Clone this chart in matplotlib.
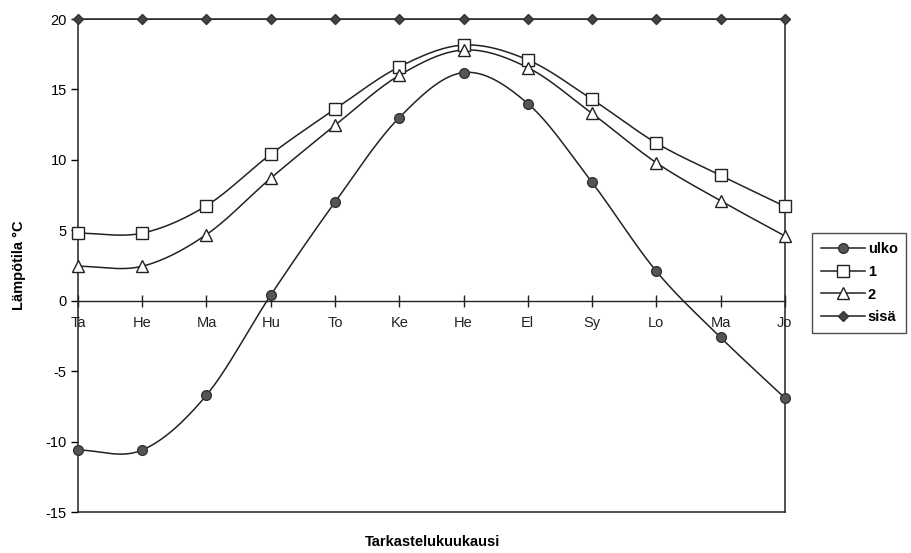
import numpy as np
import matplotlib.pyplot as plt
from matplotlib.lines import Line2D

plt.rcParams["font.family"] = ["Liberation Sans", "DejaVu Sans"]
plt.rcParams["font.size"] = 10.5

months = ["Ta", "He", "Ma", "Hu", "To", "Ke", "He", "El", "Sy", "Lo", "Ma", "Jo"]
ulko = [-10.6, -10.6, -6.7, 0.4, 7.0, 13.0, 16.2, 14.0, 8.4, 2.1, -2.6, -6.9]
rak1 = [4.8, 4.8, 6.75, 10.4, 13.6, 16.6, 18.15, 17.1, 14.3, 11.2, 8.9, 6.7]
rak2 = [2.45, 2.45, 4.7, 8.7, 12.45, 16.0, 17.8, 16.55, 13.3, 9.8, 7.1, 4.6]
sisa = [20, 20, 20, 20, 20, 20, 20, 20, 20, 20, 20, 20]
yticks = [-15, -10, -5, 0, 5, 10, 15, 20]


def smooth(x, y, n=30):
    """Catmull-Rom curve through the points, like a spreadsheet 'smoothed line'."""
    x = np.asarray(x, float)
    y = np.asarray(y, float)
    px = np.concatenate([[2 * x[0] - x[1]], x, [2 * x[-1] - x[-2]]])
    py = np.concatenate([[2 * y[0] - y[1]], y, [2 * y[-1] - y[-2]]])
    t = np.linspace(0, 1, n, endpoint=False)
    xs, ys = [], []
    for i in range(1, len(px) - 2):
        for p, out in ((px, xs), (py, ys)):
            p0, p1, p2, p3 = p[i - 1], p[i], p[i + 1], p[i + 2]
            out.append(0.5 * (2 * p1 + (-p0 + p2) * t
                              + (2 * p0 - 5 * p1 + 4 * p2 - p3) * t ** 2
                              + (-p0 + 3 * p1 - 3 * p2 + p3) * t ** 3))
    xs.append([x[-1]])
    ys.append([y[-1]])
    return np.concatenate(xs), np.concatenate(ys)


fig = plt.figure(figsize=(9.12, 5.53), dpi=100)
ax = fig.add_axes([0.0855, 0.0741, 0.775, 0.8915])
x = np.arange(len(months))

series = [
    (ulko, "ulko", dict(marker="o", markersize=7, markerfacecolor="#555555",
                        markeredgecolor="#333333"), True),
    (rak1, "1", dict(marker="s", markersize=8, markerfacecolor="white",
                     markeredgecolor="#222222"), True),
    (rak2, "2", dict(marker="^", markersize=9, markerfacecolor="white",
                     markeredgecolor="#222222"), True),
    (sisa, "sisä", dict(marker="D", markersize=5, markerfacecolor="#444444",
                        markeredgecolor="#333333"), False),
]

handles = []
for vals, name, mstyle, curved in series:
    if curved:
        sx, sy = smooth(x, vals)
    else:
        sx, sy = x, vals
    ax.plot(sx, sy, color="#222222", lw=1.1, zorder=2)
    ax.plot(x, vals, ls="none", zorder=3, clip_on=False, **mstyle)
    handles.append(Line2D([], [], color="#222222", lw=1.1, **mstyle))

ax.set_xlim(0, len(months) - 1)
ax.set_ylim(-15, 20)
ax.set_yticks(yticks)
ax.set_yticklabels([str(v) for v in yticks])
ax.tick_params(axis="y", direction="out", length=5, width=1, pad=3)
ax.set_xticks([])
for s in ax.spines.values():
    s.set_color("#222222")
    s.set_linewidth(1.1)

# category axis crosses at zero
xa = ax.secondary_xaxis(0, transform=ax.transData)
xa.set_xticks(x)
xa.set_xticklabels(months)
xa.tick_params(direction="inout", length=8, width=1, pad=7, colors="#222222")
xa.spines["bottom"].set_color("#222222")
xa.spines["bottom"].set_linewidth(1)

ax.set_ylabel("Lämpötila °C", fontweight="bold", labelpad=14)
fig.text(0.474, 0.008, "Tarkastelukuukausi", ha="center", va="bottom",
         fontweight="bold")

leg = fig.legend(handles, ["ulko", "1", "2", "sisä"], loc="upper left",
                 bbox_to_anchor=(805 / 912, 1 - 226 / 553), frameon=True,
                 fancybox=False, edgecolor="#222222", handlelength=3.0,
                 handletextpad=0.2, labelspacing=0.6, borderpad=0.6,
                 fontsize=10.5)
leg.get_frame().set_linewidth(1)
for t in leg.get_texts():
    t.set_fontweight("bold")

fig.savefig("out.png", dpi=100)
